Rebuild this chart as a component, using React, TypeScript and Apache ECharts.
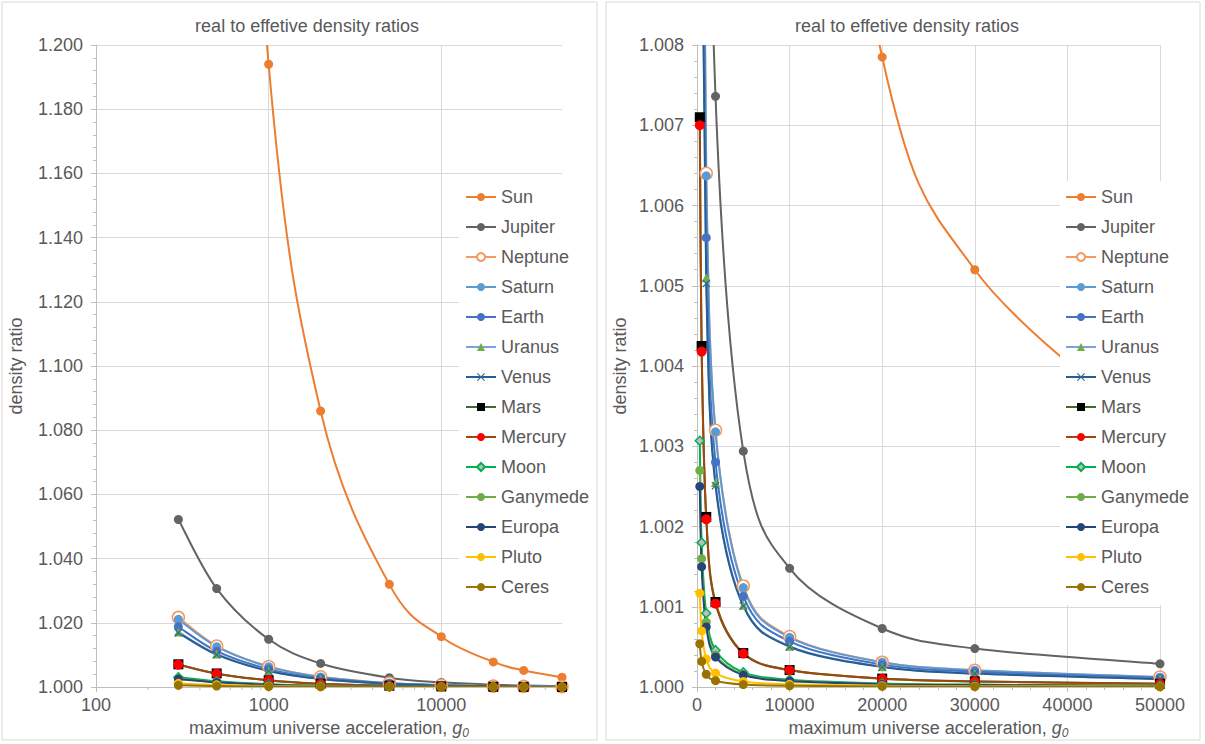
import React, { useEffect, useRef } from "react";
import * as echarts from "echarts";

// maximum universe acceleration g0 (x values)
const G0 = [300, 500, 1000, 2000, 5000, 10000, 20000, 30000, 50000];

// density ratios
const sun = [2.1, 1.46, 1.194, 1.086, 1.032, 1.0157, 1.00785, 1.0052, 1.0031];
const jupiter = [1.0522, 1.0307, 1.0149, 1.00736, 1.00294, 1.00148, 1.00073, 1.00048, 1.00029];
const neptune = [1.0217, 1.0128, 1.0064, 1.0032, 1.00126, 1.00063, 1.00031, 1.00021, 1.000125];
const saturn = [1.0211, 1.0126, 1.00637, 1.00318, 1.00124, 1.00062, 1.00031, 1.00021, 1.000124];
const earth = [1.0188, 1.0112, 1.0056, 1.0028, 1.00113, 1.00057, 1.00028, 1.00019, 1.000113];
const uranus = [1.0172, 1.0103, 1.0051, 1.00255, 1.00102, 1.00051, 1.000255, 1.00017, 1.000102];
const venus = [1.0169, 1.0101, 1.00503, 1.00251, 1.00101, 1.000503, 1.000251, 1.000168, 1.0001];
const mars = [1.0071, 1.00425, 1.00212, 1.00106, 1.000424, 1.000212, 1.000106, 1.000071, 1.000042];
const mercury = [1.007, 1.00418, 1.00209, 1.00104, 1.000418, 1.000209, 1.000104, 1.00007, 1.000042];
const moon = [1.00307, 1.0018, 1.00092, 1.00046, 1.000184, 1.000092, 1.000046, 1.000031, 1.000018];
const ganymede = [1.0027, 1.0016, 1.00081, 1.0004, 1.00016, 1.00008, 1.00004, 1.000027, 1.000016];
const europa = [1.0025, 1.0015, 1.00075, 1.000375, 1.00015, 1.000075, 1.000037, 1.000025, 1.000015];
const pluto = [1.00117, 1.0007, 1.00035, 1.000175, 1.00007, 1.000035, 1.000018, 1.000012, 1.000007];
const ceres = [1.00054, 1.00032, 1.00016, 1.00008, 1.000032, 1.000016, 1.000008, 1.000005, 1.000003];

// axis ticks
const LOG_MAJOR_TICKS = [100, 1000, 10000];
const LOG_MINOR_TICKS = [200, 300, 400, 500, 600, 700, 800, 900, 2000, 3000, 4000, 5000, 6000, 7000, 8000, 9000, 20000, 30000, 40000];

const TITLE = "real to effetive density ratios";
const Y_NAME = "density ratio";

const CROSS = "path://M1,0 L5,4 L9,0 L10,1 L6,5 L10,9 L9,10 L5,6 L1,10 L0,9 L4,5 L0,1 Z";

const BODIES = [
  { name: "Sun", values: sun, line: "#ED7D31", symbol: "circle", fill: "#ED7D31", border: "#ED7D31", size: 9 },
  { name: "Jupiter", values: jupiter, line: "#636363", symbol: "circle", fill: "#636363", border: "#636363", size: 9 },
  { name: "Neptune", values: neptune, line: "#F29A5F", symbol: "circle", fill: "#FFFFFF", border: "#F29A5F", size: 12 },
  { name: "Saturn", values: saturn, line: "#5B9BD5", symbol: "circle", fill: "#5B9BD5", border: "#5B9BD5", size: 9 },
  { name: "Earth", values: earth, line: "#4472C4", symbol: "circle", fill: "#4472C4", border: "#4472C4", size: 9 },
  { name: "Uranus", values: uranus, line: "#7FA0D8", symbol: "triangle", fill: "#70AD47", border: "#70AD47", size: 9 },
  { name: "Venus", values: venus, line: "#255E91", symbol: CROSS, fill: "#2E6A8E", border: "#2E6A8E", size: 8 },
  { name: "Mars", values: mars, line: "#43682B", symbol: "rect", fill: "#000000", border: "#000000", size: 10 },
  { name: "Mercury", values: mercury, line: "#9E480E", symbol: "circle", fill: "#FF0000", border: "#FF0000", size: 10 },
  { name: "Moon", values: moon, line: "#00B050", symbol: "diamond", fill: "#BDBDBD", border: "#00B050", size: 9 },
  { name: "Ganymede", values: ganymede, line: "#70AD47", symbol: "circle", fill: "#70AD47", border: "#70AD47", size: 9 },
  { name: "Europa", values: europa, line: "#264478", symbol: "circle", fill: "#264478", border: "#264478", size: 9 },
  { name: "Pluto", values: pluto, line: "#FFC000", symbol: "circle", fill: "#FFC000", border: "#FFC000", size: 9 },
  { name: "Ceres", values: ceres, line: "#997300", symbol: "circle", fill: "#997300", border: "#997300", size: 9 },
];

const FONT = "'Liberation Sans', Arial, sans-serif";
const FS = 18;
const TXT = "#595959";
const GRIDC = "#D9D9D9";
const AXC = "#BFBFBF";

const xName = "{a|maximum universe acceleration, }{g|g}{s|0}";
const xNameStyle = {
  rich: {
    a: { fontSize: FS, color: TXT, fontFamily: FONT, lineHeight: 22, verticalAlign: "middle" },
    g: { fontSize: FS, color: TXT, fontFamily: FONT, fontStyle: "italic", lineHeight: 22, verticalAlign: "middle" },
    s: { fontSize: 12, color: TXT, fontFamily: FONT, fontStyle: "italic", lineHeight: 11, verticalAlign: "bottom" },
  },
};

// smooth curve (Catmull-Rom style, like a spreadsheet's smoothed line), drawn
// segment by segment through the axes' own coordinate mapping
function curveSeries(b: any, gridIdx: number) {
  const vals: number[] = b.values;
  const n = G0.length;
  return {
    type: "custom",
    xAxisIndex: gridIdx,
    yAxisIndex: gridIdx,
    silent: true,
    clip: true,
    data: G0.slice(0, n - 1).map((x, i) => [x, vals[i]]),
    renderItem: (params: any, api: any) => {
      const i = params.dataIndex;
      const P = (k: number) => {
        const kk = Math.max(0, Math.min(n - 1, k));
        return api.coord([G0[kk], vals[kk]]);
      };
      const p0 = P(i - 1), p1 = P(i), p2 = P(i + 1), p3 = P(i + 2);
      const t = 1 / 6;
      return {
        type: "bezierCurve",
        shape: {
          x1: p1[0], y1: p1[1],
          cpx1: p1[0] + (p2[0] - p0[0]) * t, cpy1: p1[1] + (p2[1] - p0[1]) * t,
          cpx2: p2[0] - (p3[0] - p1[0]) * t, cpy2: p2[1] - (p3[1] - p1[1]) * t,
          x2: p2[0], y2: p2[1],
        },
        style: { stroke: b.line, lineWidth: 2, fill: "none" },
      };
    },
  };
}

function makeSeries(gridIdx: number) {
  const out: any[] = [];
  BODIES.forEach((b) => {
    out.push(curveSeries(b, gridIdx));
    out.push({
      type: "line",
      name: b.name,
      xAxisIndex: gridIdx,
      yAxisIndex: gridIdx,
      data: G0.map((x, i) => [x, b.values[i]]),
      symbol: b.symbol,
      symbolSize: b.size,
      showSymbol: true,
      clip: true,
      lineStyle: { color: b.line, width: 2, opacity: 0 },
      itemStyle: { color: b.fill, borderColor: b.border, borderWidth: b.name === "Neptune" || b.name === "Moon" ? 1.5 : 0 },
      emphasis: { disabled: true },
    });
  });
  return out;
}

function yAxis(gridIdx: number, max: number, interval: number, nameGap: number) {
  return {
    type: "value",
    gridIndex: gridIdx,
    min: 1,
    max,
    interval,
    name: Y_NAME,
    nameLocation: "middle",
    nameGap,
    nameTextStyle: { fontSize: FS, color: TXT, fontFamily: FONT },
    axisLine: { show: true, lineStyle: { color: AXC } },
    axisTick: { show: true, length: 5, lineStyle: { color: AXC } },
    minorTick: { show: true, splitNumber: 5, length: 3, lineStyle: { color: AXC } },
    splitLine: { show: true, lineStyle: { color: GRIDC } },
    axisLabel: {
      fontSize: FS,
      color: TXT,
      fontFamily: FONT,
      margin: 13,
      formatter: (v: number) => v.toFixed(3),
    },
  };
}

export default function App() {
  const ref = useRef<HTMLDivElement>(null);
  useEffect(() => {
    if (!ref.current) return;
    const chart = echarts.init(ref.current, undefined, { renderer: "svg" });
    const legendBase = {
      orient: "vertical",
      top: 181,
      itemWidth: 30,
      itemHeight: 10,
      itemGap: 10,
      backgroundColor: "#FFFFFF",
      textStyle: { fontSize: FS, color: TXT, fontFamily: FONT, lineHeight: 20 },
      data: BODIES.map((b) => ({ name: b.name, lineStyle: { color: b.line, width: 2, opacity: 1 } })),
      selectedMode: false,
    };
    chart.setOption({
      animation: false,
      backgroundColor: "#FFFFFF",
      textStyle: { fontFamily: FONT },
      title: [
        { text: TITLE, left: 302, top: 12, textAlign: "center", textStyle: { fontSize: FS, fontWeight: "normal", color: TXT, fontFamily: FONT } },
        { text: TITLE, left: 902, top: 12, textAlign: "center", textStyle: { fontSize: FS, fontWeight: "normal", color: TXT, fontFamily: FONT } },
      ],
      legend: [
        { ...legendBase, left: 459, padding: [6, 8, 8, 6] },
        { ...legendBase, left: 1060, padding: [6, 8, 8, 5] },
      ],
      grid: [
        { left: 96, top: 45, width: 466, height: 644, containLabel: false },
        { left: 697, top: 45, width: 463, height: 644, containLabel: false },
      ],
      xAxis: [
        {
          type: "log",
          logBase: 10,
          gridIndex: 0,
          min: 100,
          max: 50000,
          name: xName,
          nameLocation: "middle",
          nameGap: 27,
          nameTextStyle: xNameStyle,
          axisLine: { show: true, lineStyle: { color: AXC } },
          axisTick: { show: true, length: 5, lineStyle: { color: AXC } },
          splitLine: { show: true, showMaxLine: false, lineStyle: { color: GRIDC } },
          axisLabel: {
            fontSize: FS,
            color: TXT,
            fontFamily: FONT,
            margin: 9,
            showMaxLabel: false,
            formatter: (v: number) => {
              const r = Math.round(v);
              return LOG_MAJOR_TICKS.includes(r) ? String(r) : "";
            },
          },
        },
        {
          type: "value",
          gridIndex: 1,
          min: 0,
          max: 50000,
          interval: 10000,
          name: xName,
          nameLocation: "middle",
          nameGap: 27,
          nameTextStyle: xNameStyle,
          axisLine: { show: true, lineStyle: { color: AXC } },
          axisTick: { show: true, length: 5, lineStyle: { color: AXC } },
          minorTick: { show: true, splitNumber: 5, length: 3, lineStyle: { color: AXC } },
          splitLine: { show: true, lineStyle: { color: GRIDC } },
          axisLabel: { fontSize: FS, color: TXT, fontFamily: FONT, margin: 9, formatter: (v: number) => String(v) },
        },
      ],
      yAxis: [yAxis(0, 1.2, 0.02, 71), yAxis(1, 1.008, 0.001, 68)],
      series: [
        {
          type: "custom",
          xAxisIndex: 0,
          yAxisIndex: 0,
          silent: true,
          data: LOG_MINOR_TICKS.map((x) => [x, 1]),
          renderItem: (_params: any, api: any) => {
            const p = api.coord([api.value(0), api.value(1)]);
            return {
              type: "line",
              shape: { x1: p[0], y1: p[1], x2: p[0], y2: p[1] + 3 },
              style: { stroke: AXC, lineWidth: 1 },
            };
          },
        },
        ...makeSeries(0),
        ...makeSeries(1),
      ],
      graphic: [
        { type: "rect", shape: { x: 2, y: 2, width: 595, height: 738 }, style: { fill: "none", stroke: GRIDC, lineWidth: 1 }, z: 100, silent: true },
        { type: "rect", shape: { x: 606, y: 2, width: 594, height: 738 }, style: { fill: "none", stroke: GRIDC, lineWidth: 1 }, z: 100, silent: true },
      ],
    });
    return () => chart.dispose();
  }, []);
  return <div ref={ref} style={{ position: "absolute", left: 0, top: 0, width: 1205, height: 744 }} />;
}
